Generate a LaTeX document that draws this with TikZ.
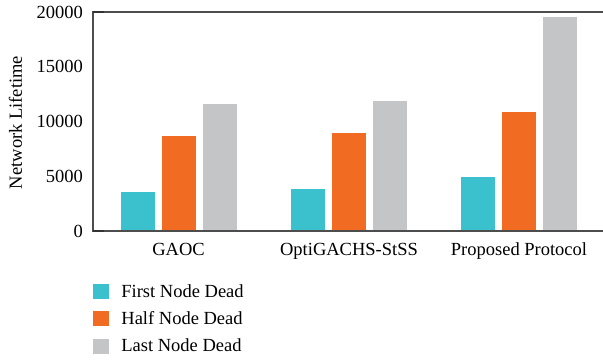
\documentclass[tikz,border=0pt]{standalone}
\usepackage{fontspec}
\setmainfont{Liberation Serif}
\usepackage{tikz}
\usetikzlibrary{positioning}
\definecolor{firstc}{HTML}{3BC1CD}
\definecolor{halfc}{HTML}{F26B22}
\definecolor{lastc}{HTML}{C4C5C7}
\definecolor{axisc}{HTML}{4D4D4D}

\begin{document}
\begin{tikzpicture}[
  x=1pt, y=1pt,
  lbl/.style={font=\fontsize{18.5}{21}\selectfont, inner sep=0pt},
  axis/.style={draw=axisc, line width=1.2pt},
  key/.style={minimum width=16pt, minimum height=15pt, inner sep=0pt}
]
\useasboundingbox (0,0) rectangle (603,360);
% frame, open on the right
\draw[axis] (603,348) -- (93,348) -- (93,129) -- (603,129);
\draw[axis, draw=black!80, line width=1.5pt] (93,348) -- (104,348) (93,129) -- (104,129);
% y axis
\foreach \v/\t [count=\i] in {0/0,5/5000,10/10000,15/15000,20/20000}
  \node[lbl, anchor=east] (ytick\i) at (83,129+\v*10.95) {\t};
\node[lbl, rotate=90] (ylabel) at (15.5,237.5) {Network Lifetime};
% bars (values in thousands)
\foreach \cx/\a/\b/\c/\name [count=\g] in {178.5/3.6/8.7/11.6/GAOC,
    349/3.8/8.95/11.9/OptiGACHS-StSS, 519/4.95/10.9/19.5/Proposed Protocol} {
  \fill[firstc] (\cx-58,129.6) rectangle (\cx-24,129+\a*10.95);
  \fill[halfc] (\cx-17,129.6) rectangle (\cx+17,129+\b*10.95);
  \fill[lastc] (\cx+24,129.6) rectangle (\cx+58,129+\c*10.95);
  \node[lbl, anchor=base] (grp\g) at (\cx,105) {\name};
}
% legend
\node[key, fill=firstc] (k1) at (101,68.5) {};
\node[key, fill=halfc, below=12pt of k1] (k2) {};
\node[key, fill=lastc, below=12pt of k2] (k3) {};
\node[lbl, anchor=base west] (t1) at ([xshift=12pt,yshift=-5.5pt]k1.east) {First Node Dead};
\node[lbl, anchor=base west] (t2) at ([xshift=12pt,yshift=-5.5pt]k2.east) {Half Node Dead};
\node[lbl, anchor=base west] (t3) at ([xshift=12pt,yshift=-5.5pt]k3.east) {Last Node Dead};
\end{tikzpicture}
\end{document}
